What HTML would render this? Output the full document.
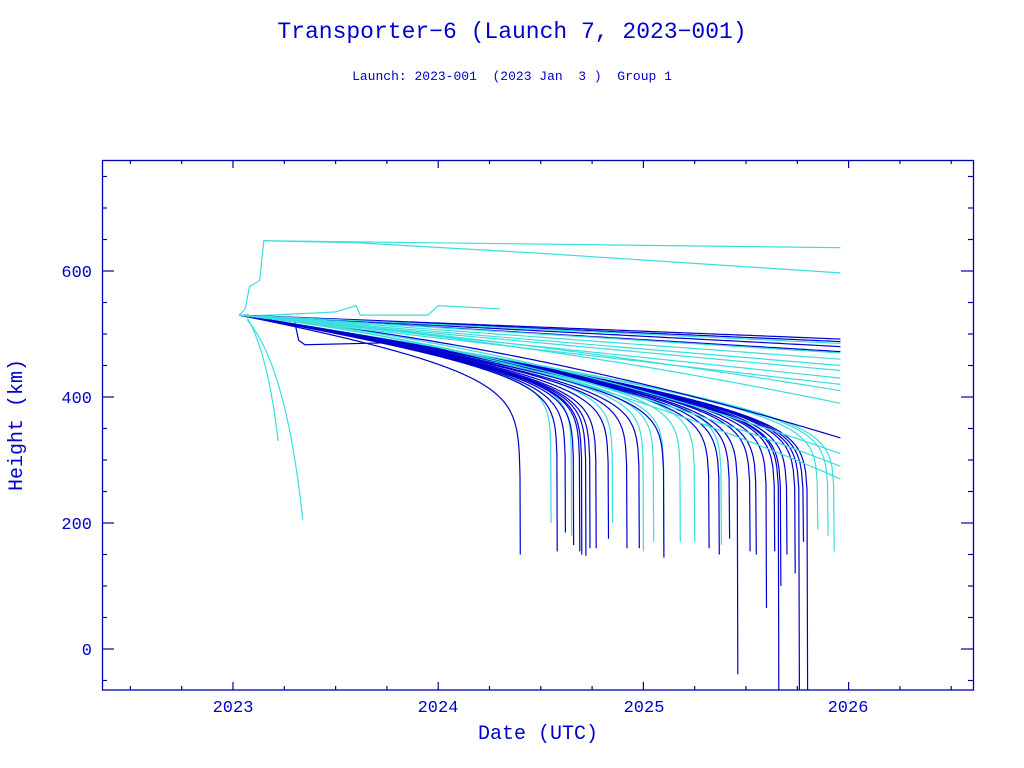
<!DOCTYPE html>
<html><head><meta charset="utf-8"><style>
body{margin:0;background:#fff;}
svg{display:block;font-family:"Liberation Serif",serif;}
text{white-space:pre;}
</style></head><body>
<svg id="s" width="1024" height="768" xmlns="http://www.w3.org/2000/svg">
<rect width="1024" height="768" fill="#fff"/>
<text x="512" y="38" text-anchor="middle" font-size="23" fill="#0000cc" font-family="Liberation Mono, monospace">Transporter−6 (Launch 7, 2023−001)</text>
<text x="512" y="80" text-anchor="middle" font-size="13" fill="#0000cc" font-family="Liberation Mono, monospace" xml:space="preserve">Launch: 2023-001  (2023 Jan  3 )  Group 1</text>
<g id="curves" fill="none" stroke-width="1.2"></g>
<rect x="102.5" y="160.5" width="871" height="529.5" fill="none" stroke="#0000aa" stroke-width="1.3"/>
<g id="ticks" stroke="#0000aa" stroke-width="1.2"></g>
<g fill="#0000cc" font-size="17" font-family="Liberation Mono, monospace">
<text x="233" y="712" text-anchor="middle">2023</text>
<text x="438" y="712" text-anchor="middle">2024</text>
<text x="644" y="712" text-anchor="middle">2025</text>
<text x="848" y="712" text-anchor="middle">2026</text>
<text x="92" y="277" text-anchor="end">600</text>
<text x="92" y="403" text-anchor="end">400</text>
<text x="92" y="529" text-anchor="end">200</text>
<text x="92" y="655" text-anchor="end">0</text>
<text x="538" y="739" text-anchor="middle" font-size="20">Date (UTC)</text>
<text transform="translate(22,425) rotate(-90)" text-anchor="middle" font-size="20">Height (km)</text>
</g>
</svg>
<script>
var X=function(t){return 233+(t-2023)*205.2;};
var Y=function(h){return 649-h*0.63;};
var tk=document.getElementById('ticks'),s='';
for(var t=2022.5;t<=2026.6;t+=0.25){var x=X(t);if(x<103||x>973)continue;var L=Math.abs(t-Math.round(t))<0.01?8:4;
s+='<line x1="'+x+'" y1="690" x2="'+x+'" y2="'+(690-L)+'"/><line x1="'+x+'" y1="160" x2="'+x+'" y2="'+(160+L)+'"/>';}
for(var h=-50;h<=750;h+=50){var y=Y(h);if(y<161||y>689)continue;var L=h%200==0?12:5;
s+='<line x1="102" y1="'+y+'" x2="'+(102+L)+'" y2="'+y+'"/><line x1="973" y1="'+y+'" x2="'+(973-L)+'" y2="'+y+'"/>';}
tk.innerHTML=s;
var B='#0000cd',C='#3adede',out='';
function decay(Te,endH,col,q){q=q||25;var t0=2023.03,L=Te-t0,r=45,pts=[],done=false;
 for(var i=0;i<=400;i++){var u=i/400*0.999,x=u*L,h=530-r*x-q*(-Math.log(1-u));
  if(h<endH){h=endH;pts.push([t0+x,h]);done=true;break;}pts.push([t0+x,h]);}
 if(!done)pts.push([Te,endH]);
 out+='<path stroke="'+col+'" d="M'+pts.map(function(p){return X(p[0]).toFixed(1)+','+Y(p[1]).toFixed(1)}).join('L')+'"/>';}
function surv(target,col,curv){var t0=2023.03,te=2025.96,pts=[];curv=curv||0;
 for(var i=0;i<=100;i++){var f=i/100,h=530-(530-target)*(f*(1-curv)+curv*f*f);pts.push([t0+f*(te-t0),h]);}
 out+='<path stroke="'+col+'" d="M'+pts.map(function(p){return X(p[0]).toFixed(1)+','+Y(p[1]).toFixed(1)}).join('L')+'"/>';}
out+='<path stroke="'+C+'" d="M'+X(2023.07)+','+Y(525)+' Q'+X(2023.17)+','+Y(470)+' '+X(2023.22)+','+Y(330)+'"/>';
out+='<path stroke="'+C+'" d="M'+X(2023.07)+','+Y(522)+' Q'+X(2023.26)+','+Y(450)+' '+X(2023.34)+','+Y(205)+'"/>';
out+='<path stroke="'+C+'" d="M'+X(2023.03)+','+Y(530)+'L'+X(2023.06)+','+Y(540)+'L'+X(2023.08)+','+Y(575)+'L'+X(2023.13)+','+Y(585)+'L'+X(2023.15)+','+Y(648)+'L'+X(2025.96)+','+Y(637)+'"/>';
out+='<path stroke="'+C+'" d="M'+X(2023.15)+','+Y(648)+'L'+X(2023.6)+','+Y(645)+'L'+X(2024.5)+','+Y(628)+'L'+X(2025.96)+','+Y(597)+'"/>';
out+='<path stroke="'+C+'" d="M'+X(2023.05)+','+Y(528)+'L'+X(2023.5)+','+Y(535)+'L'+X(2023.6)+','+Y(545)+'L'+X(2023.62)+','+Y(530)+'L'+X(2023.95)+','+Y(530)+'L'+X(2024.0)+','+Y(545)+'L'+X(2024.3)+','+Y(540)+'"/>';
out+='<path stroke="'+B+'" d="M'+X(2023.3)+','+Y(520)+'L'+X(2023.32)+','+Y(490)+'L'+X(2023.35)+','+Y(483)+'L'+X(2023.75)+','+Y(486)+'"/>';
var cy=[[2024.55,200],[2024.65,180],[2024.85,200],[2025.0,155],[2025.05,170],[2025.1,155],[2025.18,170],[2025.25,170],[2025.38,165],[2025.85,190],[2025.9,180],[2025.93,155]];
cy.forEach(function(c){decay(c[0],c[1],C,20);});
var bl=[[2024.4,150,28],[2024.58,155],[2024.62,185],[2024.66,165],[2024.69,155],[2024.7,150],[2024.72,148],[2024.74,160],[2024.77,160],[2024.83,175],[2024.92,160],[2024.98,160],[2025.1,145],[2025.32,160],[2025.37,150],[2025.42,175],[2025.46,-40],[2025.52,155],[2025.55,150],[2025.6,65],[2025.64,155],[2025.67,100],[2025.7,150],[2025.74,120],[2025.76,-65],[2025.78,170],[2025.8,-65],[2025.66,-65]];
bl.forEach(function(c){decay(c[0],c[1],B,c[2]||22);});
[[492,B],[488,B],[480,B],[472,B],[335,B,0.5],[485,C],[470,C],[460,C],[450,C],[442,C],[430,C],[420,C],[410,C,0.3],[390,C,0.4],[310,C,0.55],[290,C,0.55],[270,C,0.6]].forEach(function(c){surv(c[0],c[1],c[2]);});
document.getElementById('curves').innerHTML=out;
</script>
</body></html>
